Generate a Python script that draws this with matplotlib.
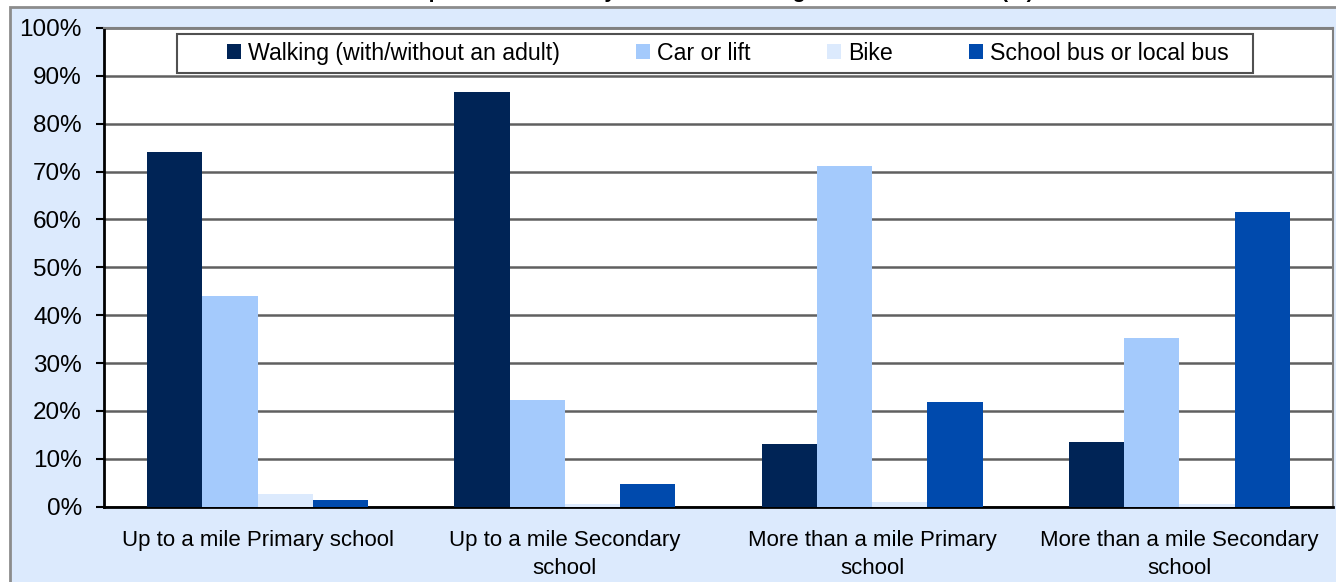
import matplotlib
import matplotlib.pyplot as plt
import numpy as np
from matplotlib.patches import Rectangle

matplotlib.use("Agg")
plt.rcParams["font.family"] = ["Liberation Sans", "DejaVu Sans"]

# Data
categories = [
    "Up to a mile Primary school",
    "Up to a mile Secondary\nschool",
    "More than a mile Primary\nschool",
    "More than a mile Secondary\nschool",
]
series_names = [
    "Walking (with/without an adult)",
    "Car or lift",
    "Bike",
    "School bus or local bus",
]
walking = [74.1, 86.6, 13.1, 13.5]
car = [44.0, 22.3, 71.2, 35.2]
bike = [2.6, 0.6, 1.0, 0.5]
bus = [1.4, 4.8, 21.8, 61.6]
colors = ["#002456", "#A4CAFC", "#DCEAFD", "#004AAD"]
title = "Transport mode used by distance travelling to the local school (%)"

W, H = 1336, 582
fig = plt.figure(figsize=(W / 100, H / 100), dpi=100)
fig.patch.set_facecolor("white")

# Outer light-blue chart frame
fig.patches.append(Rectangle((10 / W, -0.05), 1.2, 1 - 7 / H + 0.05,
                             transform=fig.transFigure, facecolor="#DCEAFD",
                             edgecolor="#8C8C8C", linewidth=2, zorder=-10))

# Title is cut off by the top edge in the reference: only descenders visible
fig.text(703 / W, 1 + 1.5 / H, title, ha="center", va="baseline",
         fontsize=15, fontweight="bold", color="black")

ax = fig.add_axes([104 / W, 1 - 506.7 / H, (1333 - 104) / W, (506.7 - 28) / H])
ax.set_facecolor("white")

x = np.arange(len(categories))
bw = 0.18
all_series = [walking, car, bike, bus]
for i, (vals, name, c) in enumerate(zip(all_series, series_names, colors)):
    ax.bar(x + (i - 1.5) * bw, vals, bw, color=c, label=name, zorder=3)

ax.set_xlim(-0.5, len(categories) - 0.5)
ax.set_ylim(0, 100)
ax.set_yticks(np.arange(0, 101, 10))
ax.set_yticklabels([f"{v}%" for v in range(0, 101, 10)], fontsize=17.5)
ax.set_xticks(x)
ax.set_xticklabels(categories, fontsize=16, linespacing=1.4)
ax.tick_params(axis="x", length=0, pad=17)
ax.tick_params(axis="y", length=6, width=1.5, direction="out", pad=10)

ax.yaxis.grid(True, color="#606060", linewidth=1.8, zorder=1)
ax.set_axisbelow(True)
for side in ["left", "bottom"]:
    ax.spines[side].set_color("black")
    ax.spines[side].set_linewidth(2)
for side in ["top", "right"]:
    ax.spines[side].set_color("#808080")
    ax.spines[side].set_linewidth(1.5)

# Legend inside a rectangular box
fig.patches.append(Rectangle((177 / W, 1 - 73 / H), (1253 - 177) / W, 39 / H,
                             transform=fig.transFigure, facecolor="white",
                             edgecolor="#505050", linewidth=1.5, zorder=5))
handles, labels = ax.get_legend_handles_labels()
leg = fig.legend(handles, labels, loc="center", bbox_to_anchor=(728 / W, 1 - 53.5 / H),
                 ncol=4, frameon=False, fontsize=16.7, handlelength=0.6,
                 handleheight=0.6, handletextpad=0.3, columnspacing=3.3)
leg.set_zorder(6)

fig.savefig("out.png", dpi=100)
